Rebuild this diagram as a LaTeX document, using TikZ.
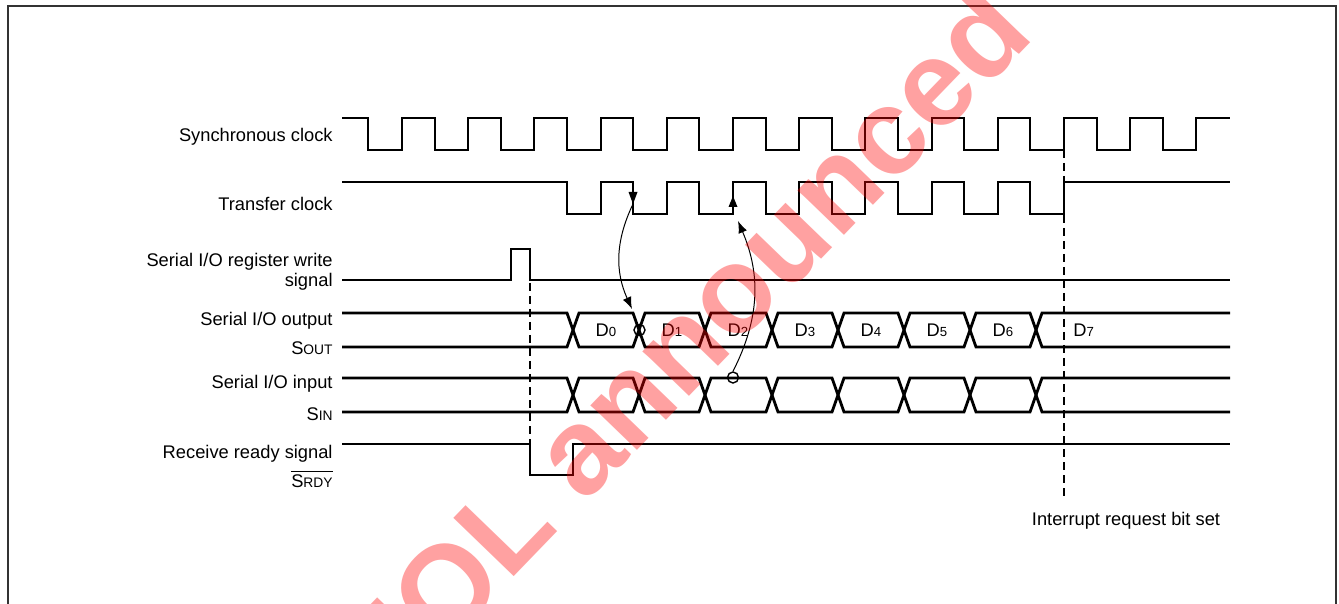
\documentclass[tikz,border=0pt]{standalone}
\usepackage{fontspec}
\setmainfont{Liberation Sans}
\usetikzlibrary{arrows.meta}

\newcommand\lowcaps[1]{{\fontsize{6.9}{8}\selectfont #1}}
\newcommand\dbit[1]{D{\fontsize{6.6}{8}\selectfont #1}}

\tikzset{
  wave/.style={line width=1.4pt},
  thinwave/.style={line width=1.1pt},
  guide/.style={line width=0.7pt, dash pattern=on 4pt off 2.5pt},
  lbl/.style={anchor=east, inner sep=0pt, font=\fontsize{9.15}{10}\selectfont},
  dlbl/.style={inner sep=0pt, font=\fontsize{9.15}{10}\selectfont},
  link/.style={line width=0.5pt, -{Latex[length=6pt,width=4.5pt]}},
  ringmark/.style={draw, circle, line width=0.7pt, minimum size=5.5pt, inner sep=0pt},
}

\begin{document}
\begin{tikzpicture}[x=0.5pt,y=-0.5pt]
	\useasboundingbox (0,0) rectangle (1339,604);
	\draw[line width=1pt, black!80] (8,604) -- (8,6) -- (1336,6) -- (1336,604);
	% signal names
	\node[lbl] (nsync) at (333,137) {Synchronous clock};
	\node[lbl] (ntrans) at (333,204) {Transfer clock};
	\node[lbl, align=right] (nwrite) at (333,272) {Serial I/O register write\\signal};
	\node[lbl] (nout) at (333,321) {Serial I/O output};
	\node[lbl] (nsout) at (333,348) {S\lowcaps{OUT}};
	\node[lbl] (nin) at (333,384) {Serial I/O input};
	\node[lbl] (nsin) at (333,414) {S\lowcaps{IN}};
	\node[lbl] (nrdy) at (333,454) {Receive ready signal};
	\node[lbl] (nsrdy) at (333,479) {$\overline{\mbox{S\lowcaps{RDY}}}$};
	% clocks
	\draw[wave] (342,118) -| (368,150) -| (402,118) -| (435,150) -| (468,118) -| (501,150) -| (534,118) -| (567,150) -| (601,118) -| (633,150) -| (667,118) -| (699,150) -| (733,118) -| (766,150) -| (799,118) -| (832,150) -| (865,118) -| (898,150) -| (932,118) -| (964,150) -| (998,118) -| (1030,150) -| (1064,118) -| (1097,150) -| (1130,118) -| (1163,150) -| (1196,118) -- (1230,118);
	\draw[wave] (342,182) -| (567,214) -| (601,182) -| (633,214) -| (667,182) -| (699,214) -| (733,182) -| (766,214) -| (799,182) -| (832,214) -| (865,182) -| (898,214) -| (932,182) -| (964,214) -| (998,182) -| (1030,214) -| (1064,182) -- (1230,182);
	\fill (628.5,192) -- (637.5,192) -- (633,204) -- cycle;
	\fill (728.5,207) -- (737.5,207) -- (733,196) -- cycle;
	% write signal and receive ready
	\draw[thinwave] (342,280) -| (511,249) -| (530,280) -- (1230,280);
	\draw[thinwave] (342,444) -| (530,475) -| (573,444) -- (1230,444);
	% serial output
	\draw[wave] (342,313) -- (567,313) -- (579,347) -- (633,347) -- (645,313) -- (699,313) -- (711,347) -- (766,347) -- (778,313) -- (832,313) -- (844,347) -- (898,347) -- (910,313) -- (964,313) -- (976,347) -- (1030,347) -- (1042,313) -- (1230,313);
	\draw[wave] (342,347) -- (567,347) -- (579,313) -- (633,313) -- (645,347) -- (699,347) -- (711,313) -- (766,313) -- (778,347) -- (832,347) -- (844,313) -- (898,313) -- (910,347) -- (964,347) -- (976,313) -- (1030,313) -- (1042,347) -- (1230,347);
	% serial input
	\draw[wave, shift={(0,65)}] (342,313) -- (567,313) -- (579,347) -- (633,347) -- (645,313) -- (699,313) -- (711,347) -- (766,347) -- (778,313) -- (832,313) -- (844,347) -- (898,347) -- (910,313) -- (964,313) -- (976,347) -- (1030,347) -- (1042,313) -- (1230,313);
	\draw[wave, shift={(0,65)}] (342,347) -- (567,347) -- (579,313) -- (633,313) -- (645,347) -- (699,347) -- (711,313) -- (766,313) -- (778,347) -- (832,347) -- (844,313) -- (898,313) -- (910,347) -- (964,347) -- (976,313) -- (1030,313) -- (1042,347) -- (1230,347);
	\node[dlbl] (d0) at (606,330) {\dbit{0}};
	\node[dlbl] (d1) at (672,330) {\dbit{1}};
	\node[dlbl] (d2) at (738,330) {\dbit{2}};
	\node[dlbl] (d3) at (805,330) {\dbit{3}};
	\node[dlbl] (d4) at (871,330) {\dbit{4}};
	\node[dlbl] (d5) at (937,330) {\dbit{5}};
	\node[dlbl] (d6) at (1003,330) {\dbit{6}};
	\node[dlbl, anchor=west] (d7) at (1073,330) {\dbit{7}};
	% guides
	\draw[guide] (530,283) -- (530,475);
	\draw[guide] (1064,150) -- (1064,500);
	\node[dlbl] (irq) at (1126,521) {Interrupt request bit set};
	% timing relations
	\node[ringmark] (cout) at (639.5,330) {};
	\node[ringmark] (cin) at (733,377.5) {};
	\coordinate (tfall) at (633,204);
	\coordinate (dshift) at (632,309);
	\coordinate (trise) at (738,221);
	\draw[link] (tfall) to[bend right=25] (dshift);
	\draw[link] (cin.north) to[bend right=25] (trise);
	% watermark
	\begin{scope}
		\clip (0,0) rectangle (1339,604);
		\node[rotate=46, text=red, opacity=0.37, inner sep=0pt, font=\fontsize{61}{61}\bfseries\selectfont] (wmark) at (680,343) {EOL announced};
	\end{scope}
\end{tikzpicture}
\end{document}
